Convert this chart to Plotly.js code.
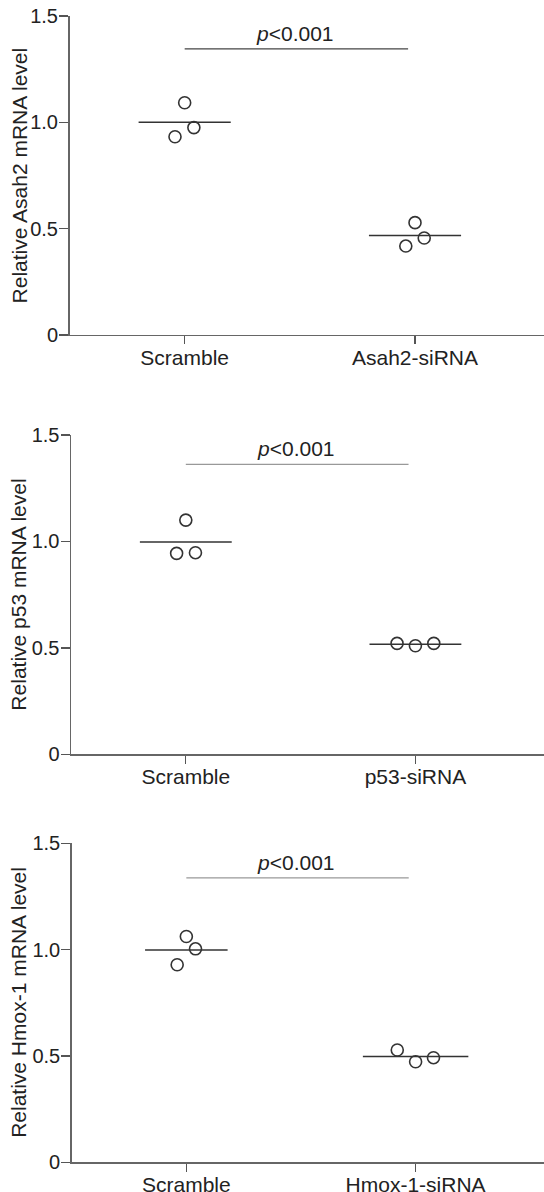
<!DOCTYPE html>
<html>
<head>
<meta charset="utf-8">
<script src="https://cdn.plot.ly/plotly-3.0.1.min.js"></script>
<style>html,body{margin:0;padding:0;background:#fff;}#chart{width:544px;height:1192px;}</style>
</head>
<body>
<div id="chart"></div>
<script>
// ---- data ----
var genes = ["Asah2", "p53", "Hmox-1"];
var yTitles = ["Relative Asah2 mRNA level", "Relative p53 mRNA level", "Relative Hmox-1 mRNA level"];
var groupLabels = [["Scramble", "Asah2-siRNA"], ["Scramble", "p53-siRNA"], ["Scramble", "Hmox-1-siRNA"]];

var scrambleValues = [
  [1.092, 0.975, 0.932],
  [1.100, 0.944, 0.947],
  [1.062, 1.004, 0.929]
];
var sirnaValues = [
  [0.528, 0.456, 0.418],
  [0.521, 0.510, 0.521],
  [0.528, 0.473, 0.492]
];
// horizontal scatter of the dots within a group (category units)
var scrambleJitter = [
  [0, 0.04, -0.042],
  [0, -0.04, 0.042],
  [0, 0.04, -0.04]
];
var sirnaJitter = [
  [0, 0.04, -0.04],
  [-0.08, 0, 0.08],
  [-0.08, 0, 0.078]
];
var pLabels = ["<i>p</i>&lt;0.001", "<i>p</i>&lt;0.001", "<i>p</i>&lt;0.001"];
var sigLevels = [1.345, 1.362, 1.338];
var yTickVals = [0, 0.5, 1.0, 1.5];
var yTickText = ["0", "0.5", "1.0", "1.5"];

// ---- style / layout ----
var FONT = "Liberation Sans, Arial, sans-serif";
var yDomains = [[0.7190, 0.9866], [0.3672, 0.6351], [0.0249, 0.2925]];
var xStarts = [69.5 / 544, 71 / 544, 71.7 / 544];
var meanHalf = [[0.2, 0.2], [0.2, 0.2], [0.18, 0.23]];
var sigLineColors = ["#444", "#999", "#999"];
var sigSpan = [0, 0.97];

function mean(a) { return a.reduce(function (s, v) { return s + v; }, 0) / a.length; }

var traces = [];
var layout = {
  width: 544, height: 1192,
  margin: {l: 0, r: 0, t: 0, b: 0},
  paper_bgcolor: "#ffffff", plot_bgcolor: "#ffffff",
  showlegend: false,
  font: {family: FONT, size: 21, color: "#222"},
  annotations: []
};

for (var i = 0; i < 3; i++) {
  var sfx = i === 0 ? "" : String(i + 1);
  var xa = "x" + sfx, ya = "y" + sfx;
  var groups = [scrambleValues[i], sirnaValues[i]];
  var jit = [scrambleJitter[i], sirnaJitter[i]];
  for (var g = 0; g < 2; g++) {
    var m = mean(groups[g]);
    var hw = meanHalf[i][g];
    traces.push({
      type: "scatter", mode: "lines", xaxis: xa, yaxis: ya,
      x: [g - hw, g + hw], y: [m, m],
      line: {color: "#333", width: 1.5}, hoverinfo: "skip"
    });
    traces.push({
      type: "scatter", mode: "markers", xaxis: xa, yaxis: ya,
      x: groups[g].map(function (v, k) { return g + jit[g][k]; }),
      y: groups[g],
      marker: {symbol: "circle-open", size: 12, color: "#333", line: {width: 1.6, color: "#333"}},
      cliponaxis: false
    });
  }
  traces.push({
    type: "scatter", mode: "lines", xaxis: xa, yaxis: ya,
    x: sigSpan, y: [sigLevels[i], sigLevels[i]],
    line: {color: sigLineColors[i], width: 1.3}, hoverinfo: "skip"
  });

  layout["xaxis" + sfx] = {
    domain: [xStarts[i], 1], anchor: ya,
    range: [-0.5, 1.56], fixedrange: true,
    tickmode: "array", tickvals: [0, 1], ticktext: groupLabels[i],
    ticks: "outside", ticklen: 8, tickwidth: 1.3, tickcolor: "#555",
    ticklabelstandoff: -5,
    showline: true, linecolor: "#666", linewidth: 1.5,
    showgrid: false, zeroline: false,
    tickfont: {family: FONT, size: 21, color: "#222"}
  };
  layout["yaxis" + sfx] = {
    domain: yDomains[i], anchor: xa,
    range: [0, 1.5], fixedrange: true,
    tickmode: "array", tickvals: yTickVals, ticktext: yTickText,
    ticks: "outside", ticklen: 9, tickwidth: 1.3, tickcolor: "#555",
    ticklabelstandoff: -3,
    showline: true, linecolor: "#666", linewidth: 1.5,
    showgrid: false, zeroline: false,
    tickfont: {family: FONT, size: 20, color: "#222"}
  };
  layout.annotations.push({
    xref: xa, yref: ya, x: 0.48, y: sigLevels[i],
    xanchor: "center", yanchor: "bottom", yshift: 2,
    text: pLabels[i], showarrow: false,
    font: {family: FONT, size: 21, color: "#222"}
  });
  layout.annotations.push({
    xref: "paper", yref: "paper",
    x: 19 / 544, y: (yDomains[i][0] + yDomains[i][1]) / 2,
    xanchor: "center", yanchor: "middle", textangle: -90,
    text: yTitles[i], showarrow: false,
    font: {family: FONT, size: 21, color: "#222"}
  });
}

Plotly.newPlot("chart", traces, layout, {staticPlot: true, displayModeBar: false});
</script>
</body>
</html>
